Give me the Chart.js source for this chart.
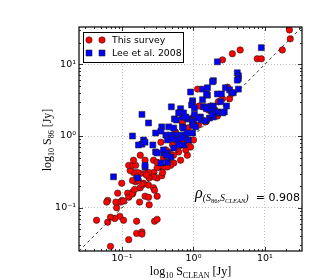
<!DOCTYPE html>
<html>
<head>
<meta charset="utf-8">
<script src="https://cdn.jsdelivr.net/npm/chart.js@4.4.0/dist/chart.umd.min.js"></script>
<style>
  html, body { margin: 0; padding: 0; background: #fff; }
</style>
</head>
<body>
<canvas id="myChart" width="329" height="280"></canvas>
<script>

// This survey: S_CLEAN (x) against S_86 (y), Jy
const surveyClean = [
  22, 22.6, 17.5, 4.5, 3.5, 2.55, 7.8, 8.9,
  1.14, 3.0, 3.2, 2.55, 2.23, 1.2, 1.38, 1.62, 2.0, 2.16, 0.70, 1.0, 1.52, 1.73, 2.23, 1.47,
  0.51, 0.6, 0.66, 0.725, 0.85, 1.0, 0.46, 0.526, 0.48, 0.82, 0.66, 0.53, 0.48, 0.43, 0.37, 0.31,
  0.276, 0.235, 0.21, 0.18, 0.165, 0.145, 0.13, 0.124, 0.14, 0.155, 0.155, 0.17, 0.2, 0.235, 0.276, 0.285,
  0.18, 0.14, 0.12, 0.124, 0.10, 0.095, 0.087, 0.063, 0.061, 0.084, 0.093, 0.105, 0.079, 0.069, 0.063, 0.044,
  0.16, 0.285, 0.31, 0.16, 0.19, 0.19, 0.124, 0.069, 0.099, 0.105, 0.082, 0.14, 0.176, 0.21, 0.235, 0.24,
  0.31, 0.15, 0.195, 0.31, 0.36, 0.37, 0.276, 0.24, 0.22, 0.14, 0.16, 0.145, 0.18, 0.21, 0.276, 0.31,
  0.38, 0.62, 0.78, 0.91, 0.41, 1.18, 0.85, 0.56, 0.45, 0.35
];
const surveyS86 = [
  30, 22.6, 15.8, 15.8, 14, 11.5, 11.9, 11.9,
  4.5, 4.8, 3.3, 3.3, 3.0, 2.62, 2.55, 2.3, 2.3, 1.9, 1.52, 1.84, 1.62, 2.62, 2.1, 1.57,
  0.75, 0.70, 0.80, 0.82, 0.77, 0.88, 0.6, 0.54, 0.49, 0.54, 0.46, 0.42, 0.39, 0.37, 0.37, 0.36,
  0.31, 0.31, 0.30, 0.30, 0.31, 0.31, 0.33, 0.39, 0.39, 0.39, 0.23, 0.24, 0.22, 0.207, 0.19, 0.176,
  0.19, 0.165, 0.16, 0.14, 0.127, 0.12, 0.16, 0.127, 0.12, 0.10, 0.076, 0.067, 0.071, 0.074, 0.063, 0.067,
  0.065, 0.065, 0.069, 0.044, 0.046, 0.043, 0.036, 0.029, 0.22, 0.124, 0.12, 0.155, 0.12, 0.145, 0.14, 0.11,
  0.145, 0.18, 0.21, 0.26, 0.28, 0.31, 0.27, 0.26, 0.285, 0.24, 0.27, 0.46, 0.54, 0.46, 0.46, 0.43,
  0.49, 0.6, 0.64, 0.70, 0.64, 1.42, 1.3, 1.14, 0.94, 0.82
];

// Lee et al. 2008
const leeClean = [
  8.9, 2.16, 4.1, 4.25, 4.25, 1.9, 4.1, 0.91, 1.34, 1.57, 1.57, 2.16, 2.46, 2.8, 3.2, 3.4, 3.6, 4.25,
  1.84, 1.9, 0.97, 0.97, 1.34, 1.67, 2.0, 0.49, 0.66, 0.70, 0.54, 0.64, 0.19, 0.235, 0.36, 0.45, 0.53,
  0.88, 1.0, 1.25, 1.67, 0.14, 0.2, 0.94, 1.03, 1.38, 1.52, 0.725, 0.62, 1.03, 1.52, 1.78, 2.1,
  0.58, 0.82, 0.97, 1.29, 1.47, 1.9, 0.70, 0.725, 0.97, 1.07, 0.41, 0.48, 0.56, 0.66, 0.78,
  0.43, 0.51, 0.6, 0.70, 0.82, 0.97, 0.19, 0.27, 0.295, 0.38, 0.43, 0.53, 0.21, 0.17, 0.21, 0.31,
  0.38, 0.42, 0.48, 0.076, 0.165, 0.21, 0.35, 0.43, 0.78, 1.18, 1.84, 2.16, 2.55, 2.7, 2.4, 2.9,
  0.62, 0.725, 0.85, 0.35, 0.295
];
const leeS86 = [
  17, 10.8, 7.6, 6.9, 6.3, 5.9, 6.0, 4.1, 4.5, 4.7, 3.7, 3.85, 3.85, 4.7, 4.4, 4.0, 4.0, 4.5,
  5.7, 2.62, 3.1, 2.9, 3.2, 2.55, 2.1, 2.55, 2.4, 1.84, 1.73, 2.1, 2.0, 1.52, 1.34, 1.34, 1.29,
  1.73, 1.62, 1.84, 1.78, 1.0, 0.88, 2.7, 2.46, 2.55, 3.85, 2.1, 2.1, 2.0, 2.4, 2.23, 2.1,
  1.67, 1.73, 1.57, 1.67, 1.62, 1.84, 1.34, 1.29, 1.42, 1.34, 1.03, 1.03, 1.03, 1.03, 1.03,
  0.88, 0.91, 0.88, 0.94, 1.1, 1.1, 0.77, 0.75, 0.6, 0.58, 0.58, 0.68, 0.37, 0.75, 0.82, 0.58,
  0.64, 0.54, 0.51, 0.27, 0.26, 0.39, 0.42, 0.43, 1.84, 1.78, 1.97, 2.16, 2.1, 2.16, 3.0, 2.62,
  0.75, 0.75, 0.88, 1.17, 1.1
];

const axisMin = 0.025;
const axisMax = 33;
const oneToOne = [axisMin, axisMax];
const majorTicks = [0.1, 1, 10];
const tickLabels = ['10⁻¹', '10⁰', '10¹'];
const rhoValue = '0.908';

const serif = '"Liberation Serif", serif';
const sans = '"DejaVu Sans", sans-serif';

function richText(ctx, parts, x, y, align) {
  let w = 0;
  parts.forEach(p => { ctx.font = p.font; w += ctx.measureText(p.t).width; });
  let cx = align === 'center' ? x - w / 2 : x;
  ctx.textAlign = 'left';
  ctx.textBaseline = 'alphabetic';
  parts.forEach(p => {
    ctx.font = p.font;
    ctx.fillText(p.t, cx, y + (p.dy || 0));
    cx += ctx.measureText(p.t).width;
  });
}

function marker(ctx, style, x, y) {
  ctx.beginPath();
  if (style === 'circle') {
    ctx.fillStyle = '#ff0000';
    ctx.arc(x, y, 3.2, 0, Math.PI * 2);
  } else {
    ctx.fillStyle = '#0000ff';
    ctx.rect(x - 3, y - 3, 6, 6);
  }
  ctx.fill();
  ctx.lineWidth = 0.6;
  ctx.strokeStyle = '#222';
  ctx.stroke();
}

const decorations = {
  id: 'decorations',
  afterDraw(chart) {
    const { ctx, chartArea: a, scales: { x, y } } = chart;
    ctx.save();

    // inward ticks on all four sides
    ctx.strokeStyle = '#000';
    ctx.lineWidth = 0.8;
    ctx.beginPath();
    for (let d = -2; d <= 1; d++) {
      for (let m = 1; m < 10; m++) {
        const v = m * Math.pow(10, d);
        if (v < axisMin || v > axisMax) continue;
        const len = m === 1 ? 4 : 2;
        const px = Math.round(x.getPixelForValue(v)) + 0.5;
        ctx.moveTo(px, a.bottom); ctx.lineTo(px, a.bottom - len);
        ctx.moveTo(px, a.top); ctx.lineTo(px, a.top + len);
        const py = Math.round(y.getPixelForValue(v)) + 0.5;
        ctx.moveTo(a.left, py); ctx.lineTo(a.left + len, py);
        ctx.moveTo(a.right, py); ctx.lineTo(a.right - len, py);
      }
    }
    ctx.stroke();

    ctx.lineWidth = 1.2;
    ctx.strokeRect(a.left, a.top, a.right - a.left, a.bottom - a.top);

    // legend
    const lx = a.left + 4, ly = a.top + 5;
    ctx.fillStyle = '#fff';
    ctx.fillRect(lx, ly, 100, 30);
    ctx.lineWidth = 1;
    ctx.strokeStyle = '#000';
    ctx.strokeRect(lx + 0.5, ly + 0.5, 100, 30);
    marker(ctx, 'circle', lx + 6, ly + 8);
    marker(ctx, 'circle', lx + 19, ly + 8);
    marker(ctx, 'rect', lx + 6, ly + 21);
    marker(ctx, 'rect', lx + 19, ly + 21);
    ctx.fillStyle = '#000';
    ctx.font = '9.3px ' + sans;
    ctx.textAlign = 'left';
    ctx.textBaseline = 'middle';
    ctx.fillText('This survey', lx + 29, ly + 8.5);
    ctx.fillText('Lee et al. 2008', lx + 29, ly + 21.5);

    // correlation coefficient
    ctx.fillStyle = '#000';
    richText(ctx, [
      { t: 'ρ', font: 'italic 16px ' + serif },
      { t: '(S', font: 'italic 10px ' + serif, dy: 3 },
      { t: '86', font: '6.5px ' + serif, dy: 5 },
      { t: ',S', font: 'italic 10px ' + serif, dy: 3 },
      { t: 'CLEAN', font: 'italic 6.5px ' + serif, dy: 5 },
      { t: ')', font: 'italic 10px ' + serif, dy: 3 }
    ], a.right - 107, a.bottom - 53, 'left');
    ctx.font = '11px ' + sans;
    ctx.textAlign = 'right';
    ctx.textBaseline = 'alphabetic';
    ctx.fillText('= ' + rhoValue, a.right - 2, a.bottom - 50);

    // axis titles
    const cx = (a.left + a.right) / 2;
    richText(ctx, [
      { t: 'log', font: '12px ' + serif },
      { t: '10', font: '8px ' + serif, dy: 2.5 },
      { t: ' S', font: '12px ' + serif },
      { t: 'CLEAN', font: '8px ' + serif, dy: 2.5 },
      { t: ' [Jy]', font: '12px ' + serif }
    ], cx, 275, 'center');

    ctx.translate(51, (a.top + a.bottom) / 2 + 1);
    ctx.rotate(-Math.PI / 2);
    richText(ctx, [
      { t: 'log', font: '12px ' + serif },
      { t: '10', font: '8px ' + serif, dy: 2.5 },
      { t: ' S', font: '12px ' + serif },
      { t: '86', font: '8px ' + serif, dy: 2.5 },
      { t: ' [Jy]', font: '12px ' + serif }
    ], 0, 0, 'center');

    ctx.restore();
  }
};

const data = {
  datasets: [
    {
      type: 'line',
      label: '1:1',
      data: oneToOne.map(v => ({ x: v, y: v })),
      borderColor: '#000',
      borderWidth: 0.8,
      borderDash: [3, 3],
      pointRadius: 0,
      fill: false,
      order: 0
    },
    {
      label: 'Lee et al. 2008',
      data: leeClean.map((v, i) => ({ x: v, y: leeS86[i] })),
      pointStyle: 'rect',
      pointRadius: 4.2,
      backgroundColor: '#0000ff',
      borderColor: '#222',
      borderWidth: 0.6,
      order: 1
    },
    {
      label: 'This survey',
      data: surveyClean.map((v, i) => ({ x: v, y: surveyS86[i] })),
      pointStyle: 'circle',
      pointRadius: 3.2,
      backgroundColor: '#ff0000',
      borderColor: '#222',
      borderWidth: 0.6,
      order: 2
    }
  ]
};

const config = {
  type: 'scatter',
  data: data,
  options: {
    responsive: false,
    animation: false,
    devicePixelRatio: 1,
    layout: { padding: { left: 0, top: 27, right: 27, bottom: 0 } },
    plugins: { legend: { display: false }, tooltip: { enabled: false } },
    scales: {
      x: {
        type: 'logarithmic',
        min: axisMin,
        max: axisMax,
        afterBuildTicks: s => { s.ticks = majorTicks.map(v => ({ value: v })); },
        afterFit: s => { s.height = 29; },
        ticks: {
          autoSkip: false,
          maxRotation: 0,
          padding: 2,
          color: '#000',
          font: { family: 'DejaVu Sans', size: 9.5 },
          callback: (v, i) => tickLabels[i]
        },
        grid: { color: '#b0b0b0', lineWidth: 0.8, drawTicks: false },
        border: { display: false, dash: [1, 2] }
      },
      y: {
        type: 'logarithmic',
        min: axisMin,
        max: axisMax,
        afterBuildTicks: s => { s.ticks = majorTicks.map(v => ({ value: v })); },
        afterFit: s => { s.width = 79; },
        ticks: {
          autoSkip: false,
          padding: 3,
          color: '#000',
          font: { family: 'DejaVu Sans', size: 9.5 },
          callback: (v, i) => tickLabels[i]
        },
        grid: { color: '#b0b0b0', lineWidth: 0.8, drawTicks: false },
        border: { display: false, dash: [1, 2] }
      }
    }
  },
  plugins: [decorations]
};

const myChart = new Chart(document.getElementById('myChart'), config);
</script>
</body>
</html>
